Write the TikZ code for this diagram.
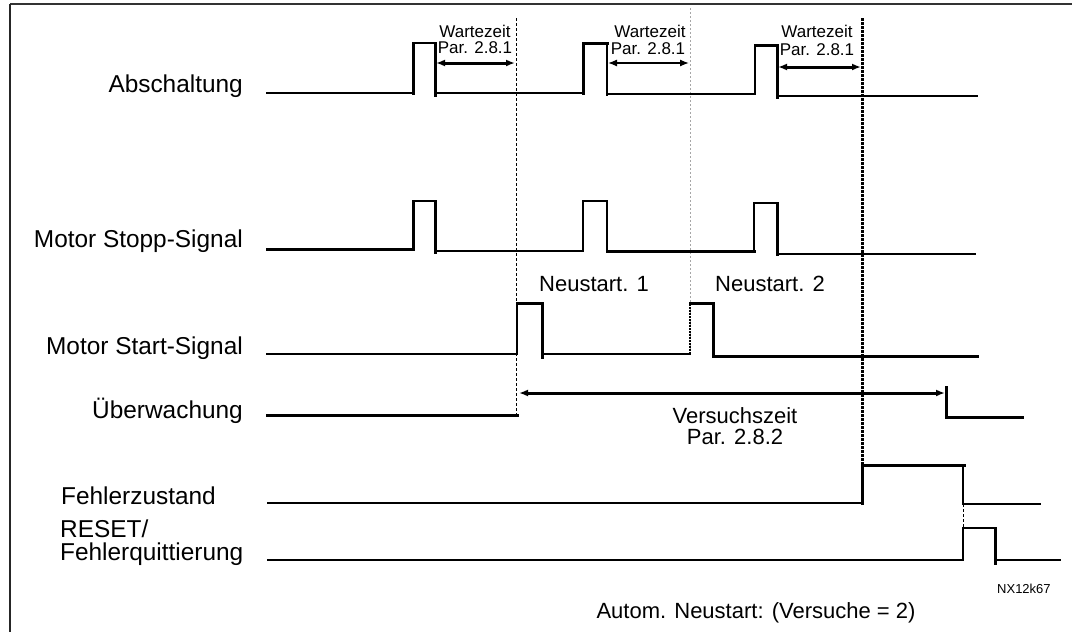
\documentclass[tikz,border=0pt]{standalone}
\usepackage{fontspec}
\setmainfont{Liberation Sans}
\usetikzlibrary{arrows.meta}
\begin{document}
\begin{tikzpicture}[x=1pt,y=-1pt,
  thinw/.style={line width=1.3pt, line cap=rect},
  thickw/.style={line width=3pt, line cap=rect},
  lbl/.style={inner sep=0pt, font=\fontsize{24.4}{23}\selectfont},
  small/.style={inner sep=0pt, font=\fontsize{17}{16}\selectfont},
  mid/.style={inner sep=0pt, font=\fontsize{22}{21}\selectfont},
  tiny/.style={inner sep=0pt, font=\fontsize{13}{13}\selectfont},
  dbl/.style={{Latex[length=9pt,width=7pt]}-{Latex[length=9pt,width=7pt]}}
]
\useasboundingbox (0,0) rectangle (1072,632);
% frame
\draw[line width=2.5pt, black!80] (10,4) -- (1072,4);
\draw[line width=2pt, black!85] (10,4) -- (10,632);

% labels
\node[lbl, anchor=base east] (l1) at (243,92) {Abschaltung};
\node[lbl, anchor=base east] (l2) at (243,247) {Motor Stopp-Signal};
\node[lbl, anchor=base east] (l3) at (243,354) {Motor Start-Signal};
\node[lbl, anchor=base east] (l4) at (243,418) {Überwachung};
\node[lbl, anchor=base west] (l5) at (61,504) {Fehlerzustand};
\node[lbl, anchor=base west] (l6) at (60,537) {RESET/};
\node[lbl, anchor=base west] (l7) at (60,560) {Fehlerquittierung};

% vertical reference lines
\draw[line width=1pt, dash pattern=on 3pt off 2pt] (516,18) -- (516,415);
\draw[line width=1pt, black!35, dash pattern=on 2pt off 2pt] (690,8) -- (690,355);
\draw[line width=3pt, dash pattern=on 2.5pt off 1.5pt] (862,18) -- (862,465);

% Abschaltung
\draw[thinw] (267,93) -- (413,93);
\draw[thickw] (413,93) -- (413,43);
\draw[thinw] (413,43) -- (435,43);
\draw[thickw] (435,43) -- (435,95);
\draw[thinw] (435,93) -- (583,93);
\draw[thickw] (583,93) -- (583,43) -- (607,43);
\draw[thinw] (607,43) -- (607,95);
\draw[thinw] (607,94) -- (755,94) -- (755,45);
\draw[thickw] (755,45) -- (777,45) -- (777,97);
\draw[thinw] (777,96) -- (977,96);

% Motor Stopp
\draw[thickw] (267,249) -- (413,249) -- (413,201);
\draw[thinw] (413,201) -- (435,201);
\draw[thickw] (435,201) -- (435,252);
\draw[thinw] (435,251) -- (583,251);
\draw[line width=2.2pt] (583,251) -- (583,201);
\draw[thinw] (583,201) -- (607,201) -- (607,251);
\draw[thickw] (607,251) -- (754,251);
\draw[thinw] (754,251) -- (754,203) -- (777,203);
\draw[thickw] (777,203) -- (777,254);
\draw[thinw] (777,254) -- (975,254);

% Motor Start
\draw[thinw] (267,354) -- (517,354);
\draw[line width=2pt] (517,354) -- (517,303);
\draw[thickw] (517,303) -- (542,303) -- (542,357);
\draw[thinw] (542,354) -- (690,354);
\draw[line width=2pt, dash pattern=on 2pt off 1pt] (690,354) -- (690,303);
\draw[thickw] (690,303) -- (713,303) -- (713,356) -- (977,356);

% Ueberwachung
\draw[thickw] (267,415) -- (517,415);
\coordinate (v1) at (519,393);
\coordinate (v2) at (945,393);
\draw[line width=3pt, dbl] (v1) -- (v2);
\draw[thickw] (946,387) -- (946,417) -- (1022,417);

% Fehlerzustand
\draw[thinw] (268,503) -- (862,503);
\draw[thickw] (862,503) -- (862,465) -- (964,465);
\draw[thinw] (963,465) -- (963,504) -- (1040,504);
\draw[line width=1pt, dash pattern=on 3pt off 2pt] (963,504) -- (963,528);

% RESET
\draw[thinw] (268,560) -- (963,560) -- (963,528) -- (995,528);
\draw[thickw] (995,528) -- (995,563);
\draw[thinw] (995,560) -- (1060,560);

% Wartezeit arrows
\coordinate (a1) at (436,63);
\coordinate (a2) at (515,63);
\draw[line width=3pt, dbl] (a1) -- (a2);
\coordinate (b1) at (608,63);
\coordinate (b2) at (689,63);
\draw[line width=1.3pt, dbl] (b1) -- (b2);
\coordinate (c1) at (778,67);
\coordinate (c2) at (861,67);
\draw[line width=3pt, dbl] (c1) -- (c2);

\node[small, anchor=base] (w1a) at (475,37) {Wartezeit};
\node[small, anchor=base] (w1b) at (475,53) {Par. 2.8.1};
\node[small, anchor=base] (w2a) at (650,37) {Wartezeit};
\node[small, anchor=base] (w2b) at (648,54) {Par. 2.8.1};
\node[small, anchor=base] (w3a) at (817,37) {Wartezeit};
\node[small, anchor=base] (w3b) at (817,55) {Par. 2.8.1};

\node[mid, anchor=base west] (n1) at (539,291) {Neustart. 1};
\node[mid, anchor=base west] (n2) at (715,291) {Neustart. 2};
\node[mid, anchor=base] (vz1) at (735,423) {Versuchszeit};
\node[mid, anchor=base] (vz2) at (735,444) {Par. 2.8.2};

\node[tiny, anchor=base west] (nx) at (997,593) {NX12k67};
\node[mid, anchor=base] (au) at (756,618) {Autom. Neustart: (Versuche = 2)};
\end{tikzpicture}
\end{document}
